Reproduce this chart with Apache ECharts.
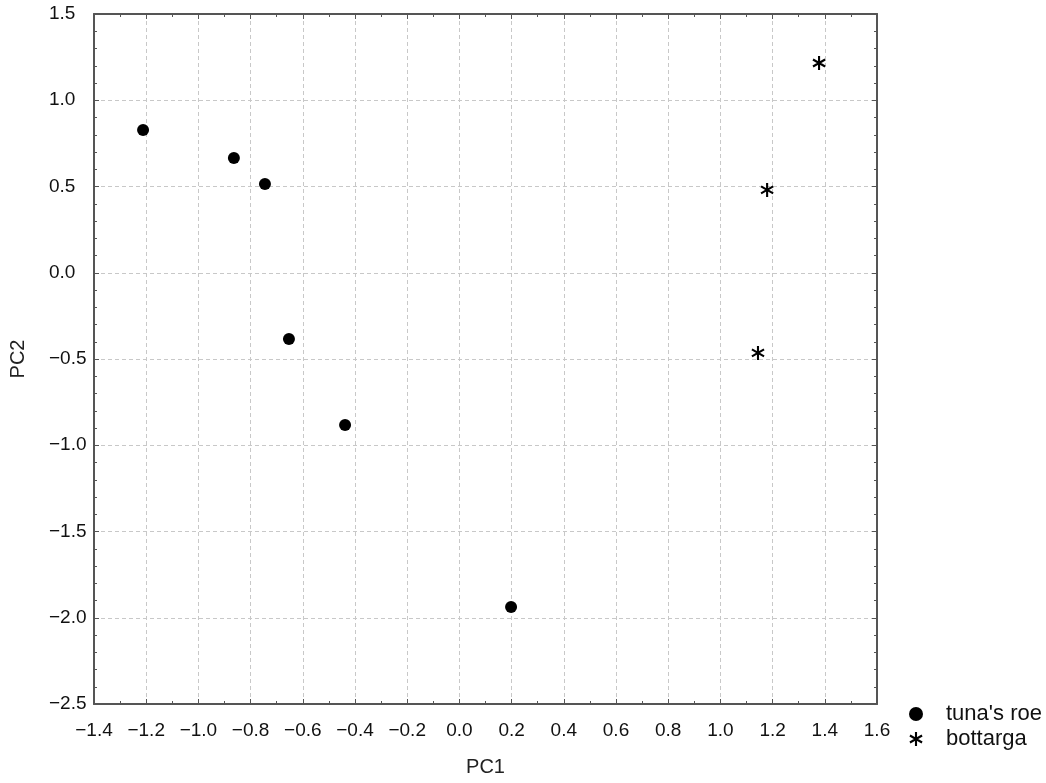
<!DOCTYPE html>
<html><head><meta charset="utf-8">
<script src="https://cdn.jsdelivr.net/npm/echarts@6/dist/echarts.min.js"></script>
<style>html,body{margin:0;padding:0;background:#fff}#c{width:1046px;height:783px}</style>
</head><body><div id="c"></div>
<script>
const seriesNames = ["tuna's roe", "bottarga"];
const tunaRoe = [[-1.212, 0.828], [-0.864, 0.665], [-0.745, 0.514], [-0.653, -0.384], [-0.438, -0.883], [0.198, -1.938]];
const bottarga = [[1.378, 1.216], [1.179, 0.480], [1.144, -0.465]];
const xAxisName = 'PC1';
const yAxisName = 'PC2';

function bar(theta, L, w) {
  const dx = Math.cos(theta), dy = Math.sin(theta);
  const px = -dy * w, py = dx * w;
  const p = [[L*dx+px, L*dy+py], [L*dx-px, L*dy-py], [-L*dx-px, -L*dy-py], [-L*dx+px, -L*dy+py]];
  return 'M' + p.map(q => q[0].toFixed(3) + ' ' + q[1].toFixed(3)).join(' L') + ' Z';
}
const star = 'path://' + [Math.PI/2, Math.PI/6, -Math.PI/6].map(t => bar(t, 10, 1.5)).join(' ');

const fmt = v => { const s = Math.abs(v).toFixed(1); return (v < -1e-9 ? '\u2212' : '') + s; };
const font = 'Liberation Sans, Arial, sans-serif';
const axisCol = '#555';
const split = { show: true, lineStyle: { color: '#c8c8c8', type: [4, 3], width: 1 } };

const chart = echarts.init(document.getElementById('c'));
chart.setOption({
  animation: false,
  backgroundColor: '#fff',
  grid: { left: 94, right: 169, top: 14, bottom: 79 },
  legend: {
    orient: 'vertical', left: 904, top: 698, itemGap: 3, itemWidth: 18, itemHeight: 14,
    textStyle: { fontFamily: font, fontSize: 22, color: '#111', padding: [0, 0, 0, 16] },
    data: [{ name: seriesNames[0], icon: 'circle', itemStyle: { color: '#000', opacity: 1 } },
           { name: seriesNames[1], icon: star, itemStyle: { color: '#000', opacity: 1 } }]
  },
  xAxis: [{
    type: 'value', min: -1.4, max: 1.6, interval: 0.2, position: 'bottom',
    name: xAxisName, nameLocation: 'middle', nameGap: 53,
    nameTextStyle: { fontFamily: font, fontSize: 20, color: '#222' },
    axisLine: { show: true, onZero: false, lineStyle: { color: axisCol, width: 2 } },
    axisTick: { show: true, inside: true, length: 5, lineStyle: { color: axisCol } },
    minorTick: { show: true, splitNumber: 2, length: 3, lineStyle: { color: axisCol } },
    axisLabel: { formatter: fmt, fontFamily: font, fontSize: 19, color: '#111', margin: 17 },
    splitLine: split
  }, {
    type: 'value', min: -1.4, max: 1.6, interval: 0.2, position: 'top',
    axisLine: { show: true, onZero: false, lineStyle: { color: axisCol, width: 2 } },
    axisTick: { show: true, inside: true, length: 5, lineStyle: { color: axisCol } },
    minorTick: { show: true, splitNumber: 2, length: 3, lineStyle: { color: axisCol } },
    axisLabel: { show: false }, splitLine: { show: false }
  }],
  yAxis: [{
    type: 'value', min: -2.5, max: 1.5, interval: 0.5, position: 'left',
    name: yAxisName, nameLocation: 'middle', nameGap: 66, nameRotate: 90,
    nameTextStyle: { fontFamily: font, fontSize: 20, color: '#222' },
    axisLine: { show: true, onZero: false, lineStyle: { color: axisCol, width: 2 } },
    axisTick: { show: true, inside: true, length: 5, lineStyle: { color: axisCol } },
    minorTick: { show: true, splitNumber: 5, length: 3, lineStyle: { color: axisCol } },
    axisLabel: { formatter: fmt, fontFamily: font, fontSize: 19, color: '#111', margin: 45, align: 'left' },
    splitLine: split
  }, {
    type: 'value', min: -2.5, max: 1.5, interval: 0.5, position: 'right',
    axisLine: { show: true, onZero: false, lineStyle: { color: axisCol, width: 2 } },
    axisTick: { show: true, inside: true, length: 5, lineStyle: { color: axisCol } },
    minorTick: { show: true, splitNumber: 5, length: 3, lineStyle: { color: axisCol } },
    axisLabel: { show: false }, splitLine: { show: false }
  }],
  series: [
    { name: seriesNames[0], type: 'scatter', data: tunaRoe, symbol: 'circle', symbolSize: 12,
      itemStyle: { color: '#000', opacity: 1 } },
    { name: seriesNames[1], type: 'scatter', data: bottarga, symbol: star, symbolSize: 14, symbolKeepAspect: true,
      itemStyle: { color: '#000', opacity: 1 } }
  ]
});
</script></body></html>
